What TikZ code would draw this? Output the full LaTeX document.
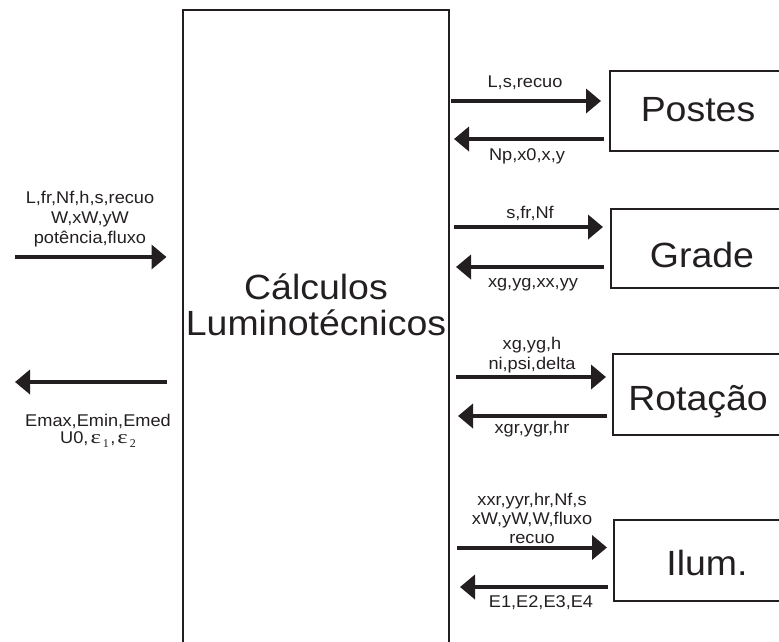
\documentclass[tikz,border=0pt]{standalone}
\usepackage{fontspec}
\setmainfont{Liberation Sans}[FakeStretch=1.07]
\newfontfamily\epsfont{Liberation Serif}
\usepackage{xcolor}
\usepackage{graphicx}
\usepackage{tikz}
\usetikzlibrary{calc,arrows.meta}
\definecolor{ink}{HTML}{231F20}
\newcommand{\epsi}[1]{{\epsfont\fontsize{19}{20}\selectfont\hspace{2pt}\scalebox{1.3}[1]{ε}\hspace{2pt}\raisebox{-4pt}{\fontsize{12}{12}\selectfont #1}\hspace{1.5pt}}}
\tikzset{
  box/.style={draw=ink, line width=2pt, rectangle, inner sep=0pt, text=ink},
  arr/.style={draw=ink, line width=4pt, -{Triangle[length=15pt,width=24pt]}},
  lbl/.style={text=ink, font=\fontsize{17}{20}\selectfont, align=center, inner sep=0pt, anchor=base},
  big/.style={text=ink, font=\fontsize{35}{36}\selectfont, align=center}
}

\begin{document}
\begin{tikzpicture}[x=1pt,y=-1pt]
  \useasboundingbox (0,0) rectangle (779,641);
  \clip (0,0) rectangle (779,641);

  % main block
  \node[box, minimum width=266pt, minimum height=670pt] (calc) at (315.5,345) {};
  \node[big, inner sep=0pt, anchor=base] (calctxt) at (316,335) {Cálculos\\Luminotécnicos};

  % modules (open to the right)
  \node[box, big, minimum width=176pt, minimum height=80pt, text height=20pt, text depth=0pt] (postes) at (698,111) {Postes};
  \node[box, big, minimum width=182pt, minimum height=79pt, text height=37pt, text depth=0pt] (grade) at (702,248.5) {Grade};
  \node[box, big, minimum width=170pt, minimum height=81pt, text height=31pt, text depth=0pt] (rot) at (698,394.5) {Rotação};
  \node[box, big, minimum width=186pt, minimum height=81pt, text height=29pt, text depth=0pt] (ilum) at (707,560.5) {Ilum.};

  % input / output on the left
  \coordinate (inL) at (15,257);
  \coordinate (outL) at (15,382);
  \draw[arr] (inL) -- ($(calc.west |- inL)+(-15,0)$);
  \draw[arr] ($(calc.west |- outL)+(-15,0)$) -- (outL);
  \node[lbl] (lin) at (90,243) {L,fr,Nf,h,s,recuo\\W,xW,yW\\potência,fluxo};
  \node[lbl] (lout) at (98,443) {Emax,Emin,Emed\\[-3pt]U0,\epsi{1},\epsi{2}};

  % Postes
  \draw[arr] ($(calc.east |- postes.west)+(1.5,-10)$) -- ($(postes.west)+(-8,-10)$);
  \draw[arr] ($(postes.west)+(-5,28)$) -- ($(calc.east |- postes.west)+(4.5,28)$);
  \node[lbl] (lpo1) at (525,87) {L,s,recuo};
  \node[lbl] (lpo2) at (527,160) {Np,x0,x,y};

  % Grade
  \draw[arr] ($(calc.east |- grade.west)+(4,-21.5)$) -- ($(grade.west)+(-7,-21.5)$);
  \draw[arr] ($(grade.west)+(-6,18.5)$) -- ($(calc.east |- grade.west)+(6.5,18.5)$);
  \node[lbl] (lgr1) at (530,218) {s,fr,Nf};
  \node[lbl] (lgr2) at (533,287) {xg,yg,xx,yy};

  % Rotacao
  \draw[arr] ($(calc.east |- rot.west)+(6.5,-17.5)$) -- ($(rot.west)+(-6,-17.5)$);
  \draw[arr] ($(rot.west)+(-5,21.5)$) -- ($(calc.east |- rot.west)+(8.5,21.5)$);
  \node[lbl] (lro1) at (532,369) {xg,yg,h\\ni,psi,delta};
  \node[lbl] (lro2) at (532,433) {xgr,ygr,hr};

  % Ilum.
  \draw[arr] ($(calc.east |- ilum.west)+(7.5,-13)$) -- ($(ilum.west)+(-6,-13)$);
  \draw[arr] ($(ilum.west)+(-5,26.5)$) -- ($(calc.east |- ilum.west)+(10.5,26.5)$);
  \node[lbl, font=\fontsize{17}{19}\selectfont] (lil1) at (532,543) {xxr,yyr,hr,Nf,s\\xW,yW,W,fluxo\\recuo};
  \node[lbl] (lil2) at (541,607) {E1,E2,E3,E4};
\end{tikzpicture}
\end{document}
